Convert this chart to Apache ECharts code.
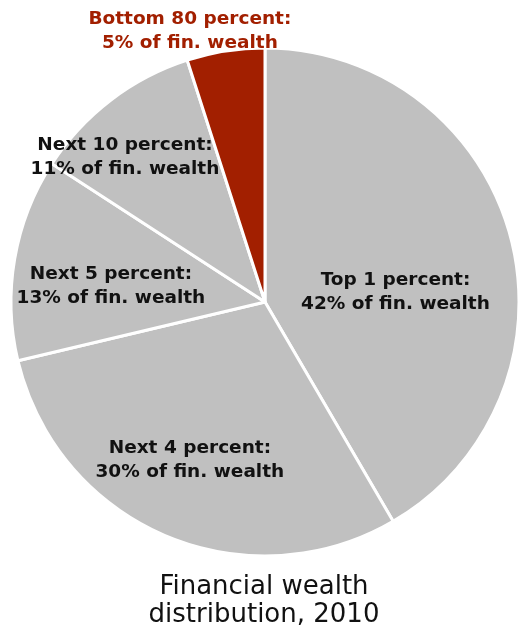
<!DOCTYPE html>
<html>
<head>
<meta charset="utf-8">
<script src="https://cdn.jsdelivr.net/npm/echarts@6/dist/echarts.min.js"></script>
<style>
html,body{margin:0;padding:0;background:#fff;}
#chart{width:520px;height:635px;}
</style>
</head>
<body>
<div id="chart"></div>
<script>
var categories = ['Top 1 percent', 'Next 4 percent', 'Next 5 percent', 'Next 10 percent', 'Bottom 80 percent'];
var shares = [42, 30, 13, 11, 5];
var sliceColors = ['#c0c0c0', '#c0c0c0', '#c0c0c0', '#c0c0c0', '#a21f00'];
var labelColors = ['#111111', '#111111', '#111111', '#111111', '#a21f00'];
var labelShift = [[5, 24], [-24, 39], [-26, 6], [-61, -42], [-55, -142]];
var titleText = 'Financial wealth\ndistribution, 2010';

var chart = echarts.init(document.getElementById('chart'), null, {renderer: 'canvas'});
var data = categories.map(function (c, i) {
  return {
    name: c,
    value: shares[i],
    itemStyle: {color: sliceColors[i]},
    label: {color: labelColors[i]}
  };
});
chart.setOption({
  animation: false,
  backgroundColor: '#ffffff',
  title: {
    text: titleText,
    left: 259,
    textAlign: 'center',
    top: 568,
    textStyle: {
      fontFamily: 'DejaVu Sans',
      fontSize: 26,
      fontWeight: 'normal',
      color: '#111111',
      lineHeight: 28
    }
  },
  series: [{
    type: 'pie',
    center: [265, 302],
    radius: [0, 254],
    startAngle: 90,
    clockwise: true,
    sort: null,
    avoidLabelOverlap: false,
    itemStyle: {borderColor: '#ffffff', borderWidth: 3},
    label: {
      show: true,
      position: 'inside',
      formatter: '{b}:\n{c}% of fin. wealth',
      fontFamily: 'DejaVu Sans',
      fontWeight: 'bold',
      fontSize: 18.5,
      lineHeight: 24,
      align: 'center'
    },
    labelLine: {show: false},
    labelLayout: function (p) {
      var s = labelShift[p.dataIndex];
      return {dx: s[0], dy: s[1]};
    },
    emphasis: {disabled: true},
    data: data
  }]
});
</script>
</body>
</html>
